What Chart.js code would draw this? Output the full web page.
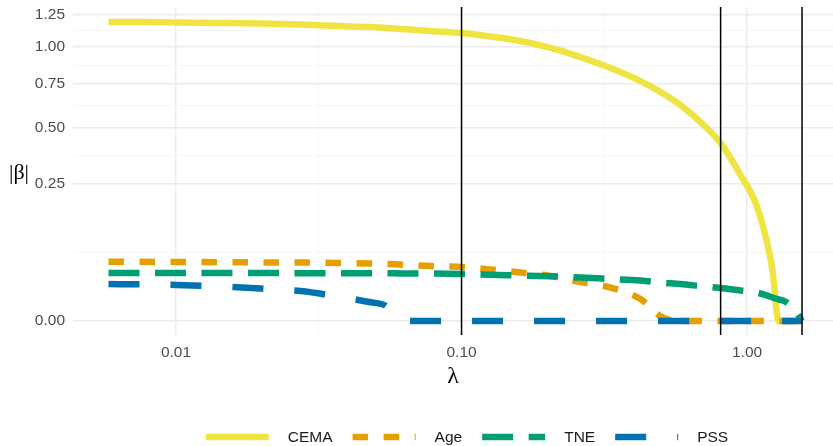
<!DOCTYPE html>
<html>
<head>
<meta charset="utf-8">
<script src="https://cdn.jsdelivr.net/npm/chart.js@4.4.1/dist/chart.umd.min.js"></script>
<style>
  html, body { margin: 0; padding: 0; background: #fff; }
</style>
</head>
<body>
<canvas id="chart" width="833" height="446"></canvas>
<script>
// lambda grid and |beta| paths
const lambdas = [0.0058, 0.0075, 0.0100, 0.0143, 0.0198, 0.0273, 0.0377, 0.0480, 0.0542, 0.0611,
                 0.0779, 0.100, 0.1264, 0.1609, 0.2049, 0.2611, 0.3325, 0.4236, 0.4977, 0.5850,
                 0.6873, 0.8078, 0.9489, 1.071, 1.161, 1.228, 1.289, 1.364, 1.479, 1.558];
const cema = [1.191, 1.190, 1.187, 1.183, 1.179, 1.171, 1.159, 1.151, 1.144, 1.136,
              1.120, 1.105, 1.078, 1.044, 0.993, 0.928, 0.853, 0.767, 0.699, 0.621,
              0.527, 0.422, 0.284, 0.186, 0.096, 0.034, 0, 0, 0, 0];
const age = [0.0468, 0.0466, 0.0464, 0.0461, 0.0458, 0.0456, 0.0448, 0.0440, 0.0434, 0.0425,
             0.0403, 0.0388, 0.0353, 0.0313, 0.0270, 0.0203, 0.0149, 0.0064, 0.0003, 0,
             0, 0, 0, 0, 0, 0, 0, 0, 0, 0];
const tne = [0.0307, 0.0307, 0.0307, 0.0306, 0.0306, 0.0305, 0.0304, 0.0303, 0.0303, 0.0302,
             0.0301, 0.0294, 0.0284, 0.0276, 0.0266, 0.0252, 0.0235, 0.0218, 0.0197, 0.0182,
             0.0163, 0.0145, 0.0124, 0.0110, 0.0090, 0.0074, 0.0062, 0.0050, 0.0013, 0];
const pss = [0.0182, 0.0179, 0.0173, 0.0160, 0.0141, 0.0120, 0.0077, 0.0047, 0.0031, 0,
             0, 0, 0, 0, 0, 0, 0, 0, 0, 0,
             0, 0, 0, 0, 0, 0, 0, 0, 0, 0];
const seriesNames = ['CEMA', 'Age', 'TNE', 'PSS'];

// axis ticks
const xTicks = [0.01, 0.1, 1];
const xTickLabels = ['0.01', '0.10', '1.00'];
const xMinor = [0.0316, 0.316];
const yTicks = [0, 0.25, 0.5, 0.75, 1, 1.25];
const yTickLabels = ['0.00', '0.25', '0.50', '0.75', '1.00', '1.25'];
// selected lambdas (vertical lines)
const vLines = [0.1, 0.808, 1.558];

const sansFont = '"Liberation Sans", Arial, sans-serif';
const serifFont = '"Liberation Serif", "Times New Roman", serif';

// sqrt-transformed y
function toPts(vals) {
  return vals.map((v, i) => ({ x: lambdas[i], y: Math.sqrt(v) }));
}

function mkSet(label, vals, color, dash, order) {
  return {
    label: label,
    data: toPts(vals),
    borderColor: color,
    backgroundColor: color,
    borderWidth: 6.5,
    borderDash: dash,
    borderCapStyle: 'butt',
    pointRadius: 0,
    cubicInterpolationMode: 'monotone',
    order: order
  };
}

// minor y breaks sit halfway between majors in sqrt space
const yMinor = [];
for (let i = 0; i < yTicks.length - 1; i++) {
  const m = (Math.sqrt(yTicks[i]) + Math.sqrt(yTicks[i + 1])) / 2;
  yMinor.push(m);
}

const gridColor = (c) => (c.tick && c.tick.minor ? '#f4f4f4' : '#ebebeb');
const gridWidth = (c) => (c.tick && c.tick.minor ? 0.8 : 1.4);

const extras = {
  id: 'extras',
  afterDatasetsDraw(chart) {
    const ctx = chart.ctx;
    const xs = chart.scales.x;
    const area = chart.chartArea;
    ctx.save();
    ctx.strokeStyle = '#000';
    ctx.lineWidth = 1.5;
    vLines.forEach(l => {
      const px = xs.getPixelForValue(l);
      ctx.beginPath();
      ctx.moveTo(px, area.top);
      ctx.lineTo(px, area.bottom);
      ctx.stroke();
    });
    ctx.restore();
  },
  afterDraw(chart) {
    const ctx = chart.ctx;
    const area = chart.chartArea;
    ctx.save();
    // y title
    ctx.fillStyle = '#000';
    ctx.font = '22px ' + serifFont;
    ctx.textAlign = 'center';
    ctx.textBaseline = 'middle';
    ctx.fillText('|\u03b2|', 19, (area.top + area.bottom) / 2 + 2);

    // legend
    ctx.font = '15.5px ' + sansFont;
    const keyW = 63, gap = 19;
    const sets = chart.data.datasets;
    let total = 0;
    sets.forEach((ds, i) => {
      total += keyW + gap + ctx.measureText(ds.label).width;
      if (i < sets.length - 1) total += gap + 1;
    });
    let x = 467 - total / 2;
    const y = 437;
    sets.forEach(ds => {
      ctx.beginPath();
      ctx.setLineDash(ds.borderDash || []);
      ctx.lineDashOffset = 0;
      ctx.lineCap = 'butt';
      ctx.lineWidth = ds.borderWidth;
      ctx.strokeStyle = ds.borderColor;
      ctx.moveTo(x, y);
      ctx.lineTo(x + keyW, y);
      ctx.stroke();
      ctx.setLineDash([]);
      x += keyW + gap;
      ctx.fillStyle = '#1a1a1a';
      ctx.textAlign = 'left';
      ctx.textBaseline = 'middle';
      ctx.fillText(ds.label, x, y + 1);
      x += ctx.measureText(ds.label).width + gap + 1;
    });
    ctx.restore();
  }
};

new Chart(document.getElementById('chart'), {
  type: 'line',
  data: {
    datasets: [
      mkSet(seriesNames[0], cema, '#F0E442', [], 4),
      mkSet(seriesNames[1], age, '#E69F00', [15.5, 15.5], 3),
      mkSet(seriesNames[2], tne, '#009E73', [31, 15.5], 2),
      mkSet(seriesNames[3], pss, '#0072B2', [31, 31], 1)
    ]
  },
  options: {
    responsive: false,
    animation: false,
    layout: { padding: { top: 7, bottom: 49, left: 0, right: 0 } },
    plugins: {
      legend: { display: false },
      tooltip: { enabled: false }
    },
    scales: {
      x: {
        type: 'logarithmic',
        bounds: 'data',
        min: 0.004357,
        max: 2.0,
        afterBuildTicks: (s) => {
          s.ticks = xTicks.map(v => ({ value: v }))
            .concat(xMinor.map(v => ({ value: v, minor: true })));
        },
        afterFit: (s) => {
          s.height = 62;
          s.paddingLeft = 0;
          s.paddingRight = 0;
        },
        ticks: {
          autoSkip: false,
          maxRotation: 0,
          padding: 8,
          color: '#4d4d4d',
          font: { family: sansFont, size: 15.5 },
          callback: (v, i, t) => {
            const k = xTicks.indexOf(t[i].value);
            return k >= 0 ? xTickLabels[k] : '';
          }
        },
        grid: { drawTicks: false, color: gridColor, lineWidth: gridWidth },
        border: { display: false },
        title: {
          display: true,
          text: '\u03bb',
          color: '#000',
          font: { family: serifFont, size: 24 },
          padding: { top: 0, bottom: 6 }
        }
      },
      y: {
        type: 'linear',
        bounds: 'data',
        min: -0.051,
        max: 1.146,
        afterBuildTicks: (s) => {
          s.ticks = yTicks.map(v => ({ value: Math.sqrt(v) }))
            .concat(yMinor.map(v => ({ value: v, minor: true })));
        },
        afterFit: (s) => {
          s.width = 73;
          s.paddingTop = 0;
          s.paddingBottom = 0;
        },
        ticks: {
          autoSkip: false,
          padding: 8,
          color: '#4d4d4d',
          font: { family: sansFont, size: 15.5 },
          callback: (v, i, t) => {
            if (t[i].minor) return '';
            const k = yTicks.findIndex(a => Math.abs(Math.sqrt(a) - t[i].value) < 1e-9);
            return k >= 0 ? yTickLabels[k] : '';
          }
        },
        grid: { drawTicks: false, color: gridColor, lineWidth: gridWidth },
        border: { display: false }
      }
    }
  },
  plugins: [extras]
});
</script>
</body>
</html>
